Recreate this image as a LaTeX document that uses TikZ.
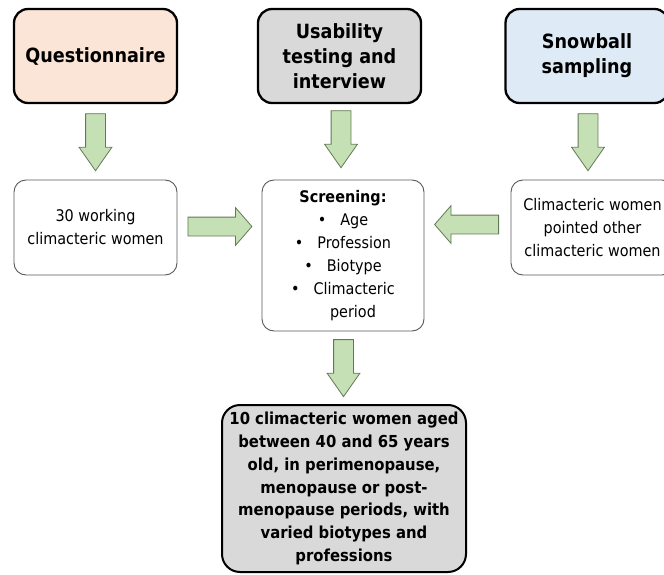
\documentclass[tikz,border=0pt]{standalone}
\usepackage{fontspec}
\setmainfont{DejaVu Sans Condensed}
\usetikzlibrary{shapes.arrows,calc}
\definecolor{peach}{HTML}{FBE5D6}
\definecolor{boxgray}{HTML}{D9D9D9}
\definecolor{iceblue}{HTML}{DEEBF7}
\definecolor{arrowgreen}{HTML}{C5E0B4}
\definecolor{arrowedge}{HTML}{627A55}
\definecolor{edgegray}{HTML}{595959}

\begin{document}
\begin{tikzpicture}[x=1pt,y=-1pt,
   source/.style={draw=black,line width=2.3pt,rounded corners=14pt,
      minimum width=163pt,minimum height=94pt,inner sep=0pt,align=center,
      font=\fontsize{19.6}{25}\selectfont\bfseries},
   group/.style={draw=edgegray,line width=0.9pt,rounded corners=12pt,fill=white,
      minimum width=163pt,minimum height=95pt,inner sep=0pt,align=center,
      font=\fontsize{16}{23}\selectfont},
   result/.style={draw=black,line width=2pt,rounded corners=18pt,fill=boxgray,
      minimum width=244pt,minimum height=167pt,inner sep=0pt,align=center,
      font=\fontsize{16.5}{22.7}\selectfont\bfseries},
   fatdown/.style={single arrow,draw=arrowedge,fill=arrowgreen,line width=0.8pt,
      inner xsep=0pt,inner ysep=9.5pt,single arrow head extend=6.5pt,
      single arrow tip angle=70,single arrow head indent=0pt,
      minimum height=57pt,rotate=-90,anchor=tail},
   fatside/.style={single arrow,draw=arrowedge,fill=arrowgreen,line width=0.8pt,
      inner xsep=0pt,inner ysep=9pt,single arrow head extend=9.5pt,
      single arrow tip angle=98,single arrow head indent=0pt,
      minimum height=64pt,anchor=tail}]
   \useasboundingbox (0,0) rectangle (664,575);

   \node[source,fill=peach] (quest) at (95.5,56) {Questionnaire};
   \node[source,fill=boxgray] (usab) at (339.5,56) {Usability\\testing and\\interview};
   \node[source,fill=iceblue] (snow) at (587,56) {Snowball\\sampling};

   \node[group] (working) at (95.5,227.5) {30 working\\climacteric women};
   \node[group,minimum width=162pt,minimum height=151pt] (screen) at (343,255.5)
      {\textbf{Screening:}\\
       •\hspace{14pt}Age\\
       •\hspace{14pt}Profession\\
       •\hspace{14pt}Biotype\\
       •\hspace{14pt}Climacteric\\
       \hspace*{20pt}period};
   \node[group] (pointed) at (592.5,227.5) {Climacteric women\\pointed other\\climacteric women};

   \node[result] (final) at (344,488.5)
      {10 climacteric women aged\\between 40 and 65 years\\old, in perimenopause,\\
       menopause or post-\\menopause periods, with\\varied biotypes and\\professions};

   \node[fatdown] (a1) at ($(quest.south)!0.5!(working.north)+(0,-28.5)$) {};
   \node[fatdown] (a2) at ($(usab.south)!0.5!(usab.south |- screen.north)+(1.5,-31.5)$) {};
   \node[fatdown] (a3) at ($(snow.south)!0.5!(snow.south |- pointed.north)+(1,-28.5)$) {};
   \node[fatside] (a4) at ($(working.east)!0.5!(working.east -| screen.west)+(-32,-1)$) {};
   \node[fatside,rotate=180] (a5) at ($(pointed.west)!0.5!(pointed.west -| screen.east)+(31.5,-3)$) {};
   \node[fatdown] (a6) at ($(screen.south)!0.5!(final.north)+(0,-28.5)$) {};
\end{tikzpicture}
\end{document}
